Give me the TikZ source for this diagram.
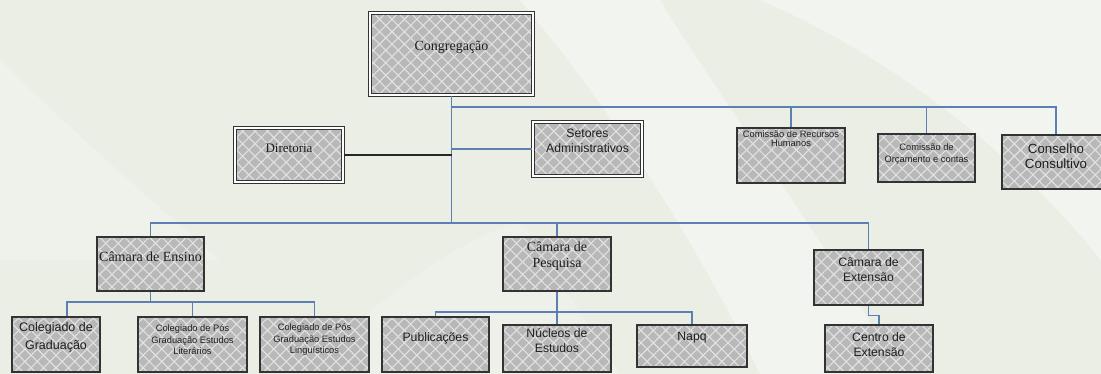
\documentclass[tikz,border=0pt]{standalone}
\usepackage{fontspec}
\setmainfont{Liberation Serif}
\setsansfont{Liberation Sans}
\usetikzlibrary{patterns.meta,calc}
\definecolor{bgc}{RGB}{234,238,229}
\definecolor{boxgray}{RGB}{184,184,184}
\definecolor{lattice}{RGB}{226,226,226}
\definecolor{conn}{RGB}{92,128,180}
\definecolor{txtc}{RGB}{30,30,30}
\tikzset{
  box/.style={rectangle, inner sep=0pt, draw=black!80, line width=1.1pt,
    preaction={fill=boxgray},
    preaction={pattern={Lines[angle=45,distance=8.8pt,line width=1.1pt]}, pattern color=lattice},
    preaction={pattern={Lines[angle=-45,distance=8.8pt,line width=1.1pt]}, pattern color=lattice}},
  dbox/.style={box, line width=1.1pt, double=white, double distance=1.3pt},
  sr/.style={font=\fontsize{13.5}{15}\selectfont\rmfamily, text=txtc, align=center, inner sep=0pt},
  sb/.style={font=\fontsize{12.2}{15}\selectfont\sffamily, text=txtc, align=center, inner sep=0pt},
  ss/.style={font=\fontsize{9.3}{11.5}\selectfont\sffamily, text=txtc, align=center, inner sep=0pt},
  link/.style={draw=conn, line width=1.1pt},
  blink/.style={draw=black!85, line width=1.1pt}
}
\begin{document}
\begin{tikzpicture}[x=1pt,y=-1pt]
\useasboundingbox (0,0) rectangle (1101,374);
% background
\fill[bgc] (0,0) rectangle (1101,374);
\fill[white,opacity=0.4] (520,0) .. controls (620,120) and (700,250) .. (760,374) -- (900,374) .. controls (820,230) and (720,100) .. (660,0) -- cycle;
\fill[white,opacity=0.4] (760,0) .. controls (900,60) and (1020,160) .. (1101,260) -- (1101,0) -- cycle;
\fill[white,opacity=0.25] (0,60) .. controls (60,120) and (150,200) .. (220,260) -- (0,260) -- cycle;
\fill[white,opacity=0.2] (300,374) .. controls (380,300) and (440,250) .. (520,220) -- (620,374) -- cycle;

% top
\node[dbox, minimum width=163pt, minimum height=82pt, label={[sr, font=\fontsize{14}{15}\selectfont\rmfamily, yshift=7pt]center:Congregação}] (cong) at (451.5,54) {};
\node[dbox, minimum width=108pt, minimum height=54pt, label={[sr, font=\fontsize{13}{15}\selectfont\rmfamily, yshift=7pt]center:Diretoria}] (dir) at (289,155) {};
\node[dbox, minimum width=109pt, minimum height=54pt, label={[sb, yshift=8pt]center:Setores\\Administrativos}] (set) at (587.5,149) {};
\node[box, minimum width=108pt, minimum height=55pt, label={[ss, font=\fontsize{9.3}{9.5}\selectfont\sffamily, yshift=17pt]center:Comissão de Recursos\\Humanos}] (crh) at (791,155.5) {};
\node[box, minimum width=97pt, minimum height=48pt, label={[ss, yshift=4pt]center:Comissão de\\Orçamento e contas}] (orc) at (926.5,158) {};
\node[box, minimum width=108pt, minimum height=54pt, label={[sb, font=\fontsize{13.3}{14.5}\selectfont\sffamily, yshift=6pt]center:Conselho\\Consultivo}] (con) at (1056,162) {};

% middle
\node[box, minimum width=107pt, minimum height=54pt, label={[sr, font=\fontsize{14}{15}\selectfont\rmfamily, yshift=7pt]center:Câmara de Ensino}] (ens) at (150.5,264) {};
\node[box, minimum width=108pt, minimum height=54pt, label={[sr, font=\fontsize{14}{16}\selectfont\rmfamily, yshift=8pt]center:Câmara de\\Pesquisa}] (pes) at (557,264) {};
\node[box, minimum width=109pt, minimum height=55pt, label={[sb, yshift=8pt]center:Câmara de\\Extensão}] (ext) at (868.5,277.5) {};

% bottom
\node[box, minimum width=88pt, minimum height=55pt, label={[sb, font=\fontsize{12.5}{18}\selectfont\sffamily, yshift=7.5pt]center:Colegiado de\\Graduação}] (cg) at (56,344.5) {};
\node[box, minimum width=109pt, minimum height=55pt, label={[ss, yshift=4.5pt]center:Colegiado de Pós\\Graduação Estudos\\Literários}] (lit) at (192.5,344.5) {};
\node[box, minimum width=109pt, minimum height=55pt, label={[ss, yshift=4.5pt]center:Colegiado de Pós\\Graduação Estudos\\Linguísticos}] (lin) at (314.5,344.5) {};
\node[box, minimum width=107pt, minimum height=55pt, label={[sb, yshift=6.5pt]center:Publicações}] (pub) at (435.5,344.5) {};
\node[box, minimum width=108pt, minimum height=47pt, label={[sb, yshift=8pt]center:Núcleos de\\Estudos}] (nuc) at (557,348.5) {};
\node[box, minimum width=110pt, minimum height=42pt, label={[sb, yshift=8pt]center:Napq}] (napq) at (692,346) {};
\node[box, minimum width=108pt, minimum height=47pt, label={[sb, yshift=4pt]center:Centro de\\Extensão}] (cen) at (879,348.5) {};

% connectors
\coordinate (tb) at (451.5,107);
\coordinate (bb) at (451.5,223);
\coordinate (eb) at (150.5,302);
\coordinate (pb) at (557,312);
\draw[link] (cong.south) -- (bb);
\draw[link] (tb) -| (crh.north);
\draw[link] (tb) -| (orc.north);
\draw[link] (tb) -| (con.north);
\draw[blink] (dir.east) -- (dir.east -| tb);
\draw[link] (set.west) -- (set.west -| tb);
\draw[link] (bb) -| (ens.north);
\draw[link] (bb) -| (pes.north);
\draw[link] (bb) -| (ext.north);
\draw[link] (ens.south) -- (eb);
\draw[link] (eb) -| ([xshift=11pt]cg.north);
\draw[link] (eb) -| (lit.north);
\draw[link] (eb) -| (lin.north);
\draw[link] (pes.south) -- (pb);
\draw[link] (pb) -| (pub.north);
\draw[link] (pb) -- (nuc.north);
\draw[link] (pb) -| (napq.north);
\draw[link] (ext.south) -- ++(0,10) -| (cen.north);
\end{tikzpicture}
\end{document}
